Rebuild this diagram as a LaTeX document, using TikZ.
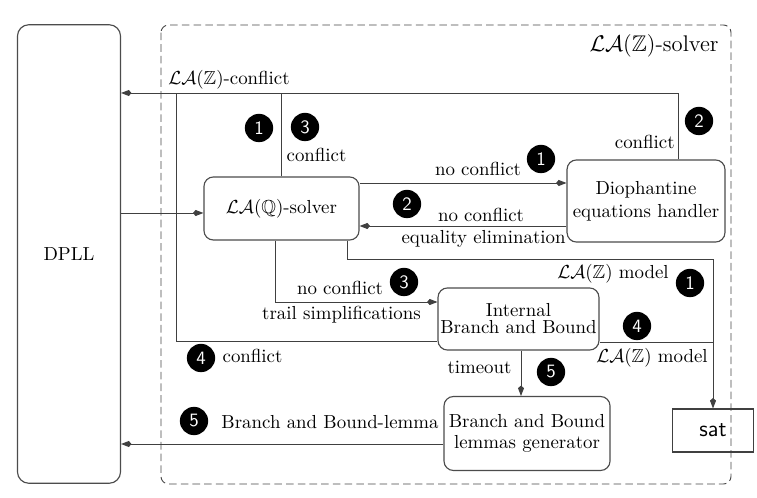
\documentclass[tikz,border=0pt]{standalone}
\usepackage{amsmath,amssymb}
\usetikzlibrary{arrows.meta}
\begin{document}
\begin{tikzpicture}[x=0.53pt,y=-0.53pt,
  box/.style={draw=black!70, line width=0.6pt, rounded corners=5pt, align=center, inner sep=0pt},
  satbox/.style={draw=black!75, line width=0.6pt, inner sep=0pt, font=\sffamily\large},
  num/.style={circle, fill=black, text=white, font=\sffamily, minimum size=15pt, inner sep=0pt},
  conn/.style={draw=black!75, line width=0.5pt},
  arr/.style={conn, -{Kite[length=5.5pt,width=3.2pt]}},
  lbl/.style={inner sep=0pt},
  frame/.style={draw=black!72, line width=0.5pt, dash pattern=on 4pt off 2.2pt, rounded corners=4pt}]
\useasboundingbox (0,0) rectangle (757,498);
\fill[white] (0,0) rectangle (757,498);
% frame
\draw[frame] (161,25) rectangle (731,484);
\node[lbl, font=\large] (ttl) at (654,46) {$\mathcal{LA}(\mathbb{Z})$-solver};
% boxes
\node[box, rounded corners=6pt, minimum width=54.6pt, minimum height=243pt] (dpll) at (69,254) {DPLL};
\node[box, minimum width=82.2pt, minimum height=33.4pt] (laq) at (281.5,208.5) {$\mathcal{LA}(\mathbb{Q})$-solver};
\node[box, minimum width=83.7pt, minimum height=43.5pt] (dio) at (646,201) {Diophantine\\equations handler};
\node[box, minimum width=85.3pt, minimum height=32.9pt] (ibb) at (518.5,319) {Internal\\[-3pt]Branch and Bound};
\node[box, minimum width=88pt, minimum height=39.2pt] (bblg) at (527,433.5) {Branch and Bound\\[-1pt]lemmas generator};
\node[satbox, minimum width=42.9pt, minimum height=22.8pt] (sat) at (713,430.5) {sat};
% junction coordinates
\coordinate (jL) at (176,93);
\coordinate (jR) at (713,259);
% connectors
\draw[arr] (dio.north -| 678,0) |- (dpll.east |- 0,93);
\draw[conn] (laq.north) -- (laq.north |- jL);
\draw[conn] (ibb.west |- 0,341) -| (jL);
\draw[arr] (dpll.east |- 0,213) -- (laq.west |- 0,213);
\draw[arr] (laq.east |- 0,183) -- (dio.west |- 0,183);
\draw[arr] (dio.west |- 0,226) -- (laq.east |- 0,226);
\draw[arr] (laq.south -| 275,0) |- (ibb.west |- 0,302);
\draw[arr] (laq.south -| 347,0) |- (jR) -- (sat.north);
\draw[conn] (ibb.east |- 0,342) -- (jR |- 0,342);
\draw[arr] (ibb.south -| 521,0) -- (bblg.north -| 521,0);
\draw[arr] (bblg.west |- 0,444) -- (dpll.east |- 0,444);
% labels
\node[lbl] (l1) at (229,80) {$\mathcal{LA}(\mathbb{Z})$-conflict};
\node[lbl] (l2) at (316.5,155) {conflict};
\node[lbl, anchor=east] (l3) at (675,142) {conflict};
\node[lbl] (l4) at (478,169) {no conflict};
\node[lbl] (l5) at (481,215) {no conflict};
\node[lbl, anchor=east] (l6) at (566,239) {equality elimination};
\node[lbl] (l7) at (613,274) {$\mathcal{LA}(\mathbb{Z})$ model};
\node[lbl] (l8) at (340,288) {no conflict};
\node[lbl] (l9) at (341.5,315) {trail simplifications};
\node[lbl] (l10) at (252.5,356) {conflict};
\node[lbl] (l11) at (652,358) {$\mathcal{LA}(\mathbb{Z})$ model};
\node[lbl] (l12) at (479.5,367) {timeout};
\node[lbl] (l13) at (330,422) {Branch and Bound-lemma};
% numbered circles
\node[num] (n1a) at (259,128) {1};
\node[num] (n3a) at (305,127) {3};
\node[num] (n2a) at (699,121) {2};
\node[num] (n1b) at (541,159) {1};
\node[num] (n2b) at (407,204) {2};
\node[num] (n1c) at (690,283) {1};
\node[num] (n3b) at (404,282) {3};
\node[num] (n4a) at (201,358) {4};
\node[num] (n4b) at (637,326) {4};
\node[num] (n5a) at (551,372) {5};
\node[num] (n5b) at (194,421) {5};
\end{tikzpicture}
\end{document}
